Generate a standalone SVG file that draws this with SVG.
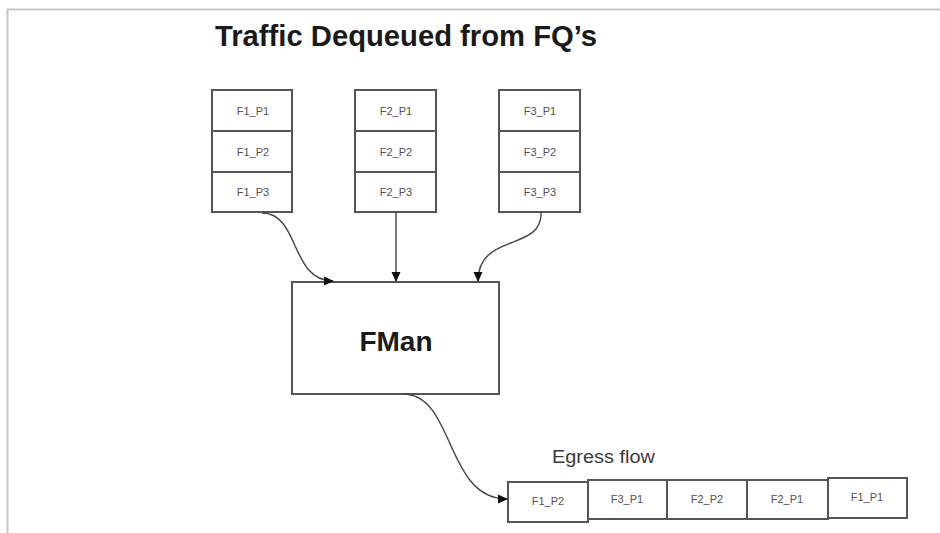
<svg xmlns="http://www.w3.org/2000/svg" width="940" height="533" viewBox="0 0 940 533">
  <style>
    .box { fill: #ffffff; stroke: #555555; stroke-width: 2; }
    .cell { font-family: "Liberation Sans", Arial, sans-serif; font-size: 11px; fill: #5a4d58; text-anchor: middle; }
    .title { font-family: "Liberation Sans", Arial, sans-serif; font-weight: bold; fill: #1a1a1a; }
    .label { font-family: "Liberation Sans", Arial, sans-serif; fill: #3a3a3a; }
    .conn { fill: none; stroke: #444444; stroke-width: 1.4; marker-end: url(#arrow); }
  </style>
  <defs>
    <marker id="arrow" viewBox="0 0 10 10" refX="9" refY="5" markerWidth="10" markerHeight="10" markerUnits="userSpaceOnUse" orient="auto">
      <path d="M0,0.5 L10,5 L0,9.5 Z" fill="#111111"/>
    </marker>
  </defs>

  <rect x="0" y="0" width="940" height="533" fill="#ffffff"/>
  <!-- frame edge -->
  <path d="M7.5,533 L7.5,9.5 L940,9.5" fill="none" stroke="#c8c8c8" stroke-width="2"/>

  <text id="title" class="title" x="215" y="46" font-size="29" textLength="382" lengthAdjust="spacingAndGlyphs">Traffic Dequeued from FQ’s</text>

  <!-- flow queue 1 -->
  <g id="fq1">
    <rect class="box" x="212" y="90" width="80" height="41"/>
    <rect class="box" x="212" y="131" width="80" height="41"/>
    <rect class="box" x="212" y="172" width="80" height="40"/>
    <text class="cell" x="253" y="115">F1_P1</text>
    <text class="cell" x="253" y="156">F1_P2</text>
    <text class="cell" x="253" y="196">F1_P3</text>
  </g>

  <!-- flow queue 2 -->
  <g id="fq2">
    <rect class="box" x="355" y="90" width="81" height="41"/>
    <rect class="box" x="355" y="131" width="81" height="41"/>
    <rect class="box" x="355" y="172" width="81" height="40"/>
    <text class="cell" x="396" y="115">F2_P1</text>
    <text class="cell" x="396" y="156">F2_P2</text>
    <text class="cell" x="396" y="196">F2_P3</text>
  </g>

  <!-- flow queue 3 -->
  <g id="fq3">
    <rect class="box" x="499" y="90" width="81" height="41"/>
    <rect class="box" x="499" y="131" width="81" height="41"/>
    <rect class="box" x="499" y="172" width="81" height="40"/>
    <text class="cell" x="540" y="115">F3_P1</text>
    <text class="cell" x="540" y="156">F3_P2</text>
    <text class="cell" x="540" y="196">F3_P3</text>
  </g>

  <!-- frame manager -->
  <g id="fman">
    <rect class="box" x="292" y="282" width="207" height="112"/>
    <text class="title" x="396" y="351" font-size="28" text-anchor="middle">FMan</text>
  </g>

  <!-- egress queue -->
  <g id="egress">
    <text class="label" x="552" y="463" font-size="18" textLength="103" lengthAdjust="spacingAndGlyphs">Egress flow</text>
    <rect class="box" x="588" y="480" width="79" height="39"/>
    <rect class="box" x="667" y="480" width="80" height="39"/>
    <rect class="box" x="747" y="480" width="81" height="39"/>
    <rect class="box" x="828" y="478" width="79" height="40"/>
    <rect class="box" x="508" y="482" width="80" height="40"/>
    <text class="cell" x="548" y="505">F1_P2</text>
    <text class="cell" x="627" y="503">F3_P1</text>
    <text class="cell" x="707" y="503">F2_P2</text>
    <text class="cell" x="787" y="503">F2_P1</text>
    <text class="cell" x="867" y="501">F1_P1</text>
  </g>

  <!-- connectors -->
  <g id="connectors">
    <path class="conn" d="M262,213 C300,213 290,281 333,281"/>
    <path class="conn" d="M396,212 L396,281"/>
    <path class="conn" d="M541,212 C543,252 478,232 478,281"/>
    <path class="conn" d="M403,394 C455,394 445,499 507,499"/>
  </g>
</svg>
